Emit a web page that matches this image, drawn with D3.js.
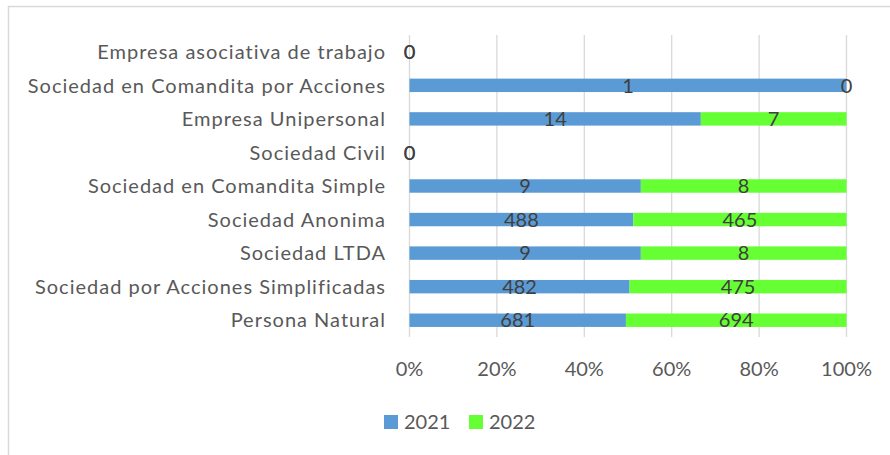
<!DOCTYPE html>
<html lang="es">
<head>
<meta charset="UTF-8">
<title>Tipos de empresa 2021 - 2022</title>
<script src="https://d3js.org/d3.v7.min.js"></script>
<style>
    body { margin: 0; background: #fff; }
    svg text { font-family: Lato, "Open Sans", sans-serif; }
</style>
</head>
<body>
<div id="chart"></div>
<script>
// categorias, de arriba hacia abajo
var categories = [
    "Empresa asociativa de trabajo",
    "Sociedad en Comandita por Acciones",
    "Empresa Unipersonal",
    "Sociedad Civil",
    "Sociedad en Comandita Simple",
    "Sociedad Anonima",
    "Sociedad LTDA",
    "Sociedad por Acciones Simplificadas",
    "Persona Natural"
];
var values2021 = [0, 1, 14, 0, 9, 488, 9, 482, 681];
var values2022 = [0, 0, 7, 0, 8, 465, 8, 475, 694];
var seriesNames = ["2021", "2022"];
var seriesColors = ["#5B9BD5", "#66FF33"];
var tickValues = [0, 0.2, 0.4, 0.6, 0.8, 1];

var width = 890, height = 455;
var margin = { left: 409.5, right: 43.5, top: 35, bottom: 118 };

var svg = d3.select("#chart").append("svg")
    .attr("width", width)
    .attr("height", height);

// marco del grafico
svg.append("rect")
    .attr("x", 8.5).attr("y", 6.5)
    .attr("width", 900).attr("height", 460)
    .attr("fill", "none")
    .attr("stroke", "#D9D9D9")
    .attr("stroke-width", 1.5);

var x = d3.scaleLinear().domain([0, 1]).range([margin.left, width - margin.right]);
var y = d3.scaleBand().domain(categories)
    .range([margin.top, height - margin.bottom])
    .paddingInner(0.6).paddingOuter(0.3);

// lineas de cuadricula
svg.append("g").selectAll("line")
    .data(tickValues)
    .enter().append("line")
    .attr("x1", function(d) { return x(d); })
    .attr("x2", function(d) { return x(d); })
    .attr("y1", margin.top)
    .attr("y2", height - margin.bottom)
    .attr("stroke", "#D9D9D9")
    .attr("stroke-width", 1.3);

// apilar en porcentaje
var rows = categories.map(function(c, i) {
    var vals = [values2021[i], values2022[i]];
    var total = vals[0] + vals[1];
    var start = 0;
    return vals.map(function(v, s) {
        var share = total > 0 ? v / total : 0;
        var seg = { cat: c, series: s, value: v, x0: start, x1: start + share };
        start += share;
        return seg;
    });
});
var segments = [].concat.apply([], rows);

svg.append("g").selectAll("rect")
    .data(segments.filter(function(d) { return d.x1 > d.x0; }))
    .enter().append("rect")
    .attr("x", function(d) { return x(d.x0); })
    .attr("width", function(d) { return x(d.x1) - x(d.x0); })
    .attr("y", function(d) { return y(d.cat); })
    .attr("height", y.bandwidth())
    .attr("fill", function(d) { return seriesColors[d.series]; });

// etiquetas de datos
svg.append("g").selectAll("text")
    .data(segments)
    .enter().append("text")
    .attr("x", function(d) { return (x(d.x0) + x(d.x1)) / 2; })
    .attr("y", function(d) { return y(d.cat) + y.bandwidth() / 2; })
    .attr("dy", "0.36em")
    .attr("text-anchor", "middle")
    .attr("font-size", 20)
    .attr("fill", "#404040")
    .text(function(d) { return d.value; });

// eje de categorias
svg.append("g").selectAll("text")
    .data(categories)
    .enter().append("text")
    .attr("x", margin.left - 23.5)
    .attr("y", function(d) { return y(d) + y.bandwidth() / 2; })
    .attr("dy", "0.36em")
    .attr("text-anchor", "end")
    .attr("font-size", 20)
    .attr("letter-spacing", 1)
    .attr("fill", "#595959")
    .text(function(d) { return d; });

// eje de porcentajes
svg.append("g").selectAll("text")
    .data(tickValues)
    .enter().append("text")
    .attr("x", function(d) { return x(d); })
    .attr("y", 376)
    .attr("text-anchor", "middle")
    .attr("font-size", 20)
    .attr("fill", "#595959")
    .text(d3.format(".0%"));

// leyenda
var legend = svg.append("g").attr("transform", "translate(384,415)");
var item = legend.selectAll("g")
    .data(seriesNames)
    .enter().append("g")
    .attr("transform", function(d, i) { return "translate(" + (i * 85) + ",0)"; });
item.append("rect")
    .attr("width", 14).attr("height", 14)
    .attr("fill", function(d, i) { return seriesColors[i]; });
item.append("text")
    .attr("x", 20).attr("y", 7)
    .attr("dy", "0.36em")
    .attr("font-size", 20)
    .attr("fill", "#595959")
    .text(function(d) { return d; });
</script>
</body>
</html>
